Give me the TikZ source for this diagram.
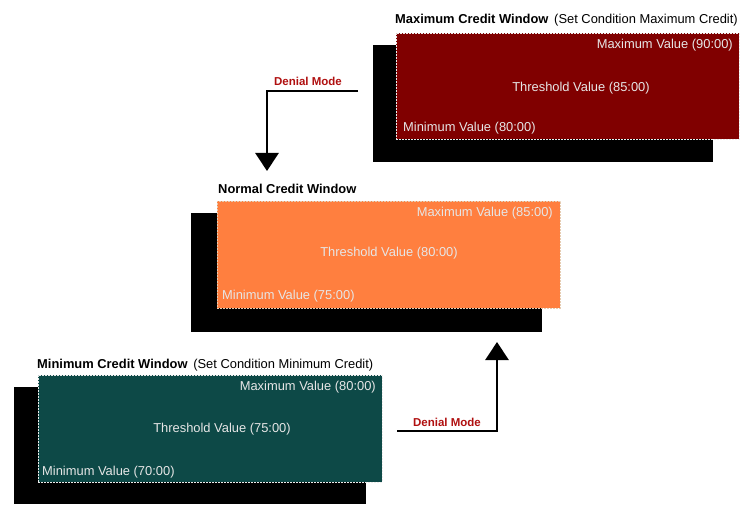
\documentclass[tikz,border=0pt]{standalone}
\usepackage{fontspec}
\setmainfont{Liberation Sans}
\usetikzlibrary{arrows.meta}
\definecolor{maxred}{HTML}{800000}
\definecolor{normorange}{HTML}{FF7F3F}
\definecolor{minteal}{HTML}{0D4947}
\definecolor{intext}{HTML}{E6E6E6}
\definecolor{denial}{HTML}{B01010}
\tikzset{
  shadowbox/.style={fill=black, draw=none, anchor=north west, inner sep=0pt},
  winbox/.style={anchor=north west, inner sep=0pt, draw=white!85!gray, dashed, dash pattern=on 2pt off 1pt, line width=0.5pt},
  intxt/.style={text=intext, font=\fontsize{12.9}{15}\selectfont, inner sep=0pt},
  ttl/.style={anchor=west, inner sep=0pt, font=\fontsize{12.9}{15}\selectfont},
  conn/.style={line width=2.8pt, -{Triangle[width=23pt,length=18pt]}},
  dlabel/.style={text=denial, font=\bfseries\fontsize{11.5}{13}\selectfont, inner sep=0pt}
}
\begin{document}
\begin{tikzpicture}[x=1pt,y=-1pt]
\useasboundingbox (0,0) rectangle (749,521);
% Maximum window
\node[shadowbox, minimum width=340pt, minimum height=117pt] (maxsh) at (373,45) {};
\node[winbox, fill=maxred, minimum width=343pt, minimum height=106pt] (maxw) at (396,33) {};
\node[ttl] (maxt) at (395,20) {\textbf{Maximum Credit Window}\, (Set Condition Maximum Credit)};
\node[intxt, anchor=east] (maxmax) at (733,45) {Maximum Value (90:00)};
\node[intxt] (maxthr) at (581,88) {Threshold Value (85:00)};
\node[intxt, anchor=west] (maxmin) at (403,128) {Minimum Value (80:00)};
% Normal window
\node[shadowbox, minimum width=351pt, minimum height=119pt] (normsh) at (191,213) {};
\node[winbox, draw=brown!40!white, fill=normorange, minimum width=343pt, minimum height=107pt] (normw) at (217,201) {};
\node[ttl] (normt) at (218,189) {\textbf{Normal Credit Window}};
\node[intxt, anchor=east] (normmax) at (553,213) {Maximum Value (85:00)};
\node[intxt] (normthr) at (389,253) {Threshold Value (80:00)};
\node[intxt, anchor=west] (normmin) at (222,296) {Minimum Value (75:00)};
% Minimum window
\node[shadowbox, minimum width=352pt, minimum height=117pt] (minsh) at (14,387) {};
\node[winbox, fill=minteal, minimum width=344pt, minimum height=107pt] (minw) at (38,375) {};
\node[ttl] (mint) at (37,365) {\textbf{Minimum Credit Window}\, (Set Condition Minimum Credit)};
\node[intxt, anchor=east] (minmax) at (376,387) {Maximum Value (80:00)};
\node[intxt] (minthr) at (222,429) {Threshold Value (75:00)};
\node[intxt, anchor=west] (minmin) at (42,472) {Minimum Value (70:00)};
% Denial arrows
\coordinate (d1s) at (358,91);
\coordinate (d1c) at (267,91);
\coordinate (d1e) at (267,171);
\draw[conn] (d1s) -- (d1c) -- (d1e);
\node[dlabel] (d1l) at (308,81) {Denial Mode};
\coordinate (d2s) at (397,431);
\coordinate (d2c) at (497,431);
\coordinate (d2e) at (497,342);
\draw[conn] (d2s) -- (d2c) -- (d2e);
\node[dlabel] (d2l) at (447,422) {Denial Mode};
\end{tikzpicture}
\end{document}
